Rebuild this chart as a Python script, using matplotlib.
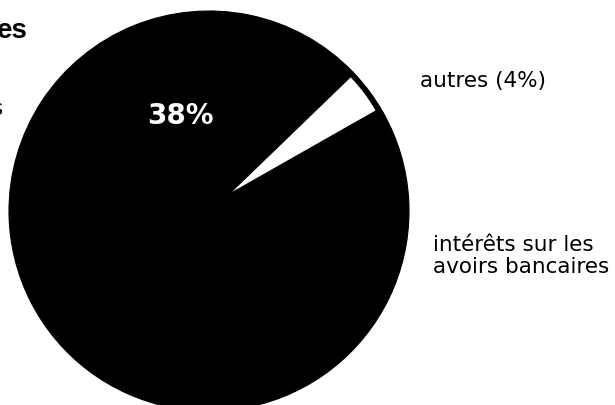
import matplotlib
matplotlib.use("Agg")
import matplotlib.pyplot as plt

# ====== data ======
categories = ["autres", "", "intérêts sur les avoirs bancaires"]
shares = [4, 38, 58]
slice_colors = ["black", "black", "black"]
highlight_colors = ["white", "none", "none"]
start_angle = 29.6

# ====== figure in pixel units ======
W, H = 615, 406
fig = plt.figure(figsize=(W / 100, H / 100), dpi=100)
ax = fig.add_axes([0, 0, 1, 1])

# main disc (all slices black)
ax.pie(shares, colors=slice_colors, startangle=start_angle, counterclock=True,
       center=(209, H - 212), radius=200,
       wedgeprops=dict(linewidth=0.8, edgecolor="black"))

# the small "autres" slice is drawn lighter, its tip slightly off-centre as in the print
ax.pie(shares, colors=highlight_colors, startangle=start_angle, counterclock=True,
       center=(232, H - 193), radius=165,
       wedgeprops=dict(linewidth=0))

ax.set_xlim(0, W)
ax.set_ylim(0, H)
ax.set_aspect("equal")
ax.axis("off")

lab = dict(family="DejaVu Sans", fontsize=15.5, color="black")

# percentage inside the big slice
ax.text(180, H - 116, f"{shares[1]}%", color="white", fontsize=20,
        fontweight="bold", family="DejaVu Sans", ha="center", va="center")

# right-hand labels
ax.text(420, H - 87, f"{categories[0]} ({shares[0]}%)", ha="left", va="baseline", **lab)
ax.text(433, H - 251, "intérêts sur les", ha="left", va="baseline", **lab)
ax.text(433, H - 273, "avoirs bancaires", ha="left", va="baseline", **lab)

# cut-off text on the left edge of the scan
ax.text(28, H - 38, "es", family="Liberation Sans", fontweight="bold",
        fontsize=20, ha="right", va="baseline")
ax.text(3.5, H - 115, "s", ha="right", va="baseline", **lab)

fig.savefig("out.png", dpi=100, facecolor="white")
